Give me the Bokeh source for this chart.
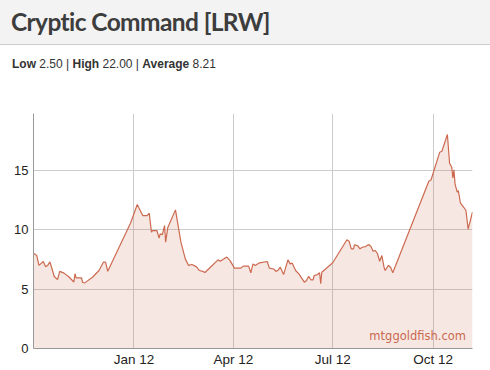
from bokeh.plotting import figure
from bokeh.models import Div, FixedTicker, Label, ColumnDataSource, Range1d
from bokeh.layouts import column
from bokeh.embed import file_html
from bokeh.resources import INLINE
import pandas as pd

title_text = "Cryptic Command [LRW]"
stat_names = ["Low", "High", "Average"]
stat_values = ["2.50", "22.00", "8.21"]
watermark = "mtggoldfish.com"

dates = [
    "2011-10-01", "2011-10-04", "2011-10-06", "2011-10-10", "2011-10-12", "2011-10-14",
    "2011-10-16", "2011-10-18", "2011-10-20", "2011-10-23", "2011-10-25", "2011-10-29",
    "2011-11-02", "2011-11-07", "2011-11-08", "2011-11-09", "2011-11-14", "2011-11-15",
    "2011-11-17", "2011-11-24", "2011-11-30", "2011-12-04", "2011-12-06", "2011-12-08",
    "2011-12-29", "2012-01-04", "2012-01-09", "2012-01-13", "2012-01-15", "2012-01-17",
    "2012-01-18", "2012-01-22", "2012-01-24", "2012-01-25", "2012-01-27", "2012-01-29",
    "2012-01-30", "2012-02-01", "2012-02-08", "2012-02-13", "2012-02-14", "2012-02-17",
    "2012-02-20", "2012-02-23", "2012-02-27", "2012-03-01", "2012-03-04", "2012-03-06",
    "2012-03-11", "2012-03-18", "2012-03-20", "2012-03-26", "2012-03-29", "2012-04-02",
    "2012-04-08", "2012-04-10", "2012-04-15", "2012-04-17", "2012-04-19", "2012-04-21",
    "2012-04-25", "2012-05-02", "2012-05-04", "2012-05-08", "2012-05-10", "2012-05-12",
    "2012-05-14", "2012-05-17", "2012-05-21", "2012-05-23", "2012-05-25", "2012-05-28",
    "2012-05-31", "2012-06-05", "2012-06-07", "2012-06-09", "2012-06-11", "2012-06-13",
    "2012-06-14", "2012-06-17", "2012-06-19", "2012-06-20", "2012-06-21", "2012-07-01",
    "2012-07-14", "2012-07-16", "2012-07-18", "2012-07-20", "2012-07-21", "2012-07-24",
    "2012-07-26", "2012-07-28", "2012-07-31", "2012-08-03", "2012-08-05", "2012-08-07",
    "2012-08-09", "2012-08-11", "2012-08-13", "2012-08-15", "2012-08-17", "2012-08-18",
    "2012-08-21", "2012-08-23", "2012-08-25", "2012-09-27", "2012-09-29", "2012-10-07",
    "2012-10-09", "2012-10-14", "2012-10-16", "2012-10-18", "2012-10-19", "2012-10-20",
    "2012-10-21", "2012-10-23", "2012-10-24", "2012-10-26", "2012-10-29", "2012-10-31",
    "2012-11-02", "2012-11-06",
]
prices = [
    8.03, 7.83, 7.00, 7.33, 6.90, 7.00,
    7.30, 6.70, 6.07, 5.80, 6.50, 6.35,
    6.07, 5.60, 6.30, 5.95, 5.95, 5.56,
    5.53, 6.00, 6.57, 7.27, 7.27, 6.50,
    10.60, 12.13, 11.20, 11.20, 11.40, 9.80,
    9.94, 9.94, 9.30, 9.66, 9.60, 10.36,
    8.96, 10.20, 11.68, 8.96, 8.60, 7.55,
    7.00, 7.08, 6.90, 6.57, 6.50, 6.40,
    6.85, 7.47, 7.35, 7.70, 7.40, 6.77,
    6.77, 6.94, 6.94, 6.38, 7.13, 7.00,
    7.22, 7.33, 6.77, 6.70, 6.50, 6.60,
    6.85, 6.23, 7.47, 7.13, 7.19, 6.57,
    6.29, 5.59, 5.73, 6.09, 5.79, 5.79,
    6.15, 6.23, 6.38, 5.45, 6.43, 7.22,
    9.16, 9.04, 8.40, 8.40, 8.74, 8.65,
    8.40, 8.53, 8.59, 8.76, 8.59, 8.20,
    8.26, 7.98, 7.35, 7.83, 6.85, 6.57,
    7.00, 6.85, 6.38, 14.09, 14.20, 16.54,
    16.62, 18.03, 15.61, 15.27, 14.38, 15.05,
    13.87, 13.17, 13.31, 12.24, 11.90, 11.63,
    10.05, 11.50,
]

tick_dates = ["2012-01-01", "2012-04-01", "2012-07-01", "2012-10-01"]
tick_labels = ["Jan 12", "Apr 12", "Jul 12", "Oct 12"]
y_ticks = [0, 5, 10, 15]


def ms(d):
    return pd.Timestamp(d).value / 1e6


LINE = "#cc6a50"

src = ColumnDataSource(dict(x=pd.to_datetime(dates), y=prices, base=[0] * len(prices)))

header = Div(
    text=title_text, width=490, height=45, margin=0,
    styles={
        "background-color": "#f3f3f3", "border-bottom": "1px solid #cccccc",
        "box-sizing": "border-box", "font-family": "Lato", "font-size": "24.5px",
        "font-weight": "bold", "color": "#3d3d3d", "padding-left": "11px",
        "letter-spacing": "-0.6px", "line-height": "44px", "white-space": "nowrap",
    },
)

parts = [f"<b>{n}</b> {v}" for n, v in zip(stat_names, stat_values)]
subtitle = Div(
    text=" | ".join(parts), width=490, height=40, margin=0,
    styles={
        "font-family": "Liberation Sans", "font-size": "12px", "color": "#333333",
        "padding-left": "12px", "line-height": "38px", "box-sizing": "border-box",
        "white-space": "nowrap",
    },
)

p = figure(
    frame_width=439, frame_height=235, x_axis_type="datetime", output_backend="svg",
    toolbar_location=None, min_border_left=33, min_border_right=18,
    min_border_top=28, min_border_bottom=22,
    x_range=Range1d(ms("2011-10-01"), ms("2012-11-06")),
    y_range=Range1d(0, 19.8),
)
p.outline_line_color = None
p.background_fill_color = "white"
p.border_fill_color = "white"

p.varea(x="x", y1="base", y2="y", source=src, fill_color=LINE, fill_alpha=0.16)
p.line(x="x", y="y", source=src, line_color=LINE, line_width=1.2)

xt = [ms(d) for d in tick_dates]
p.xaxis.ticker = FixedTicker(ticks=xt)
p.xgrid.ticker = FixedTicker(ticks=xt)
p.xaxis.major_label_overrides = {t: lab for t, lab in zip(xt, tick_labels)}
p.yaxis.ticker = FixedTicker(ticks=y_ticks)
p.ygrid.ticker = FixedTicker(ticks=y_ticks)

for ax in (p.xaxis, p.yaxis):
    ax.axis_line_color = "#999999"
    ax.major_tick_line_color = None
    ax.minor_tick_line_color = None
    ax.major_tick_out = 0
    ax.major_tick_in = 0
    ax.minor_tick_out = 0
    ax.minor_tick_in = 0
    ax.major_label_text_font = "Liberation Sans"
    ax.major_label_text_color = "#222222"
p.yaxis.major_label_text_font_size = "13px"
p.xaxis.major_label_text_font_size = "13.5px"
p.yaxis.major_label_standoff = 5
p.xaxis.major_label_standoff = 3

p.grid.grid_line_color = "#cccccc"
p.grid.grid_line_width = 1

p.add_layout(Label(
    x=ms("2012-10-31"), y=0.5, text=watermark, text_align="right",
    text_baseline="bottom", text_font="DejaVu Sans", text_font_size="11.5px",
    text_color="#c9694f",
))

layout = column(header, subtitle, p, spacing=0, margin=0)
open("out.html", "w").write(file_html(layout, INLINE))
